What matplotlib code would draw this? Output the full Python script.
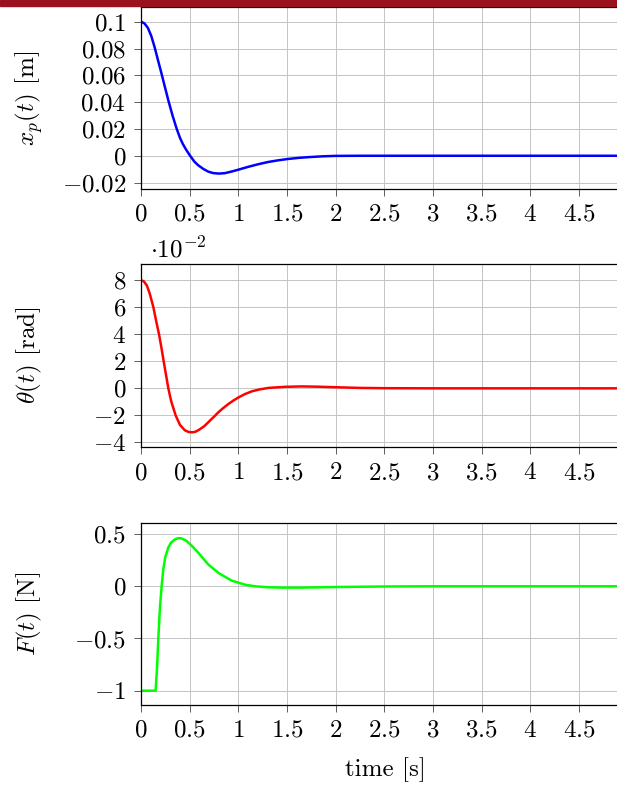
import numpy as np
import matplotlib.pyplot as plt
from matplotlib.patches import Rectangle
from matplotlib.ticker import FuncFormatter, MultipleLocator

plt.rcParams['font.family'] = 'serif'
plt.rcParams['font.serif'] = ['cmr10']
plt.rcParams['mathtext.fontset'] = 'cm'
plt.rcParams['axes.formatter.use_mathtext'] = True

# cart position x_p(t) [m]
t_x = [0, 0.035, 0.07, 0.105, 0.14, 0.175, 0.212, 0.245, 0.284, 0.325, 0.366,
       0.40, 0.43, 0.46, 0.5, 0.55, 0.59, 0.64, 0.69, 0.74, 0.8, 0.86, 0.93, 1.0,
       1.1, 1.2, 1.31, 1.41, 1.51, 1.63, 1.75, 1.87, 2.0, 2.25, 2.5, 3.0, 3.5,
       4.0, 4.5, 5.0]
x_p = [0.1, 0.0988, 0.0955, 0.0895, 0.081, 0.0712, 0.061, 0.0515, 0.0405, 0.0298,
       0.0203, 0.0135, 0.0088, 0.005, 0.0005, -0.0045, -0.0072, -0.0098, -0.0118,
       -0.0129, -0.0133, -0.013, -0.0118, -0.0104, -0.0083, -0.0064, -0.0046,
       -0.0034, -0.0024, -0.0015, -0.0009, -0.0004, -0.0001, 0.0, 0.0, 0.0, 0.0,
       0.0, 0.0, 0.0]

# pendulum angle theta(t) [rad]
t_th = [0, 0.03, 0.06, 0.09, 0.127, 0.155, 0.185, 0.21, 0.233, 0.257, 0.281,
        0.31, 0.356, 0.4, 0.45, 0.49, 0.527, 0.56, 0.6, 0.65, 0.7, 0.75, 0.8,
        0.85, 0.9, 0.95, 1.0, 1.07, 1.14, 1.22, 1.31, 1.48, 1.65, 1.82, 2.0, 2.25,
        2.5, 3.0, 3.5, 4.0, 4.5, 5.0]
theta = [0.08, 0.079, 0.076, 0.07, 0.06, 0.05, 0.04, 0.03, 0.02, 0.01, 0.0,
         -0.0095, -0.02, -0.027, -0.031, -0.0323, -0.0325, -0.0321, -0.0305,
         -0.028, -0.0245, -0.021, -0.0174, -0.0143, -0.0115, -0.009, -0.0068,
         -0.0042, -0.0022, -0.0008, 0.0003, 0.0011, 0.0014, 0.0012, 0.0008,
         0.0003, 0.0001, 0.0, 0.0, 0.0, 0.0, 0.0]

# control force F(t) [N]
t_f = [0, 0.15, 0.165, 0.178, 0.195, 0.212, 0.23, 0.25, 0.28, 0.31, 0.35, 0.38,
       0.41, 0.46, 0.52, 0.59, 0.69, 0.8, 0.93, 1.07, 1.17, 1.3, 1.45, 1.65, 2.0,
       2.5, 3.0, 3.5, 4.0, 4.5, 5.0]
force = [-1, -1, -0.78, -0.5, -0.2, 0.0, 0.17, 0.28, 0.37, 0.42, 0.45, 0.46,
         0.46, 0.44, 0.39, 0.32, 0.21, 0.125, 0.055, 0.015, 0.0, -0.009, -0.013,
         -0.013, -0.007, -0.002, 0.0, 0.0, 0.0, 0.0, 0.0]

theta_scale = 1e-2
xticks = np.arange(0, 5.0, 0.5)
fs = 18

W, H = 617, 790
fig = plt.figure(figsize=(W / 100, H / 100), dpi=100)
fig.patches.append(Rectangle((0, 1 - 6 / H), 1, 6 / H, transform=fig.transFigure,
                             color='#9b111e', zorder=0))

def px_axes(top, bottom, left=141, right=627.5):
    return fig.add_axes([left / W, 1 - bottom / H, (right - left) / W, (bottom - top) / H])

ax1 = px_axes(7, 189)
ax2 = px_axes(264, 447.3)
ax3 = px_axes(523, 705)

fmt = FuncFormatter(lambda v, p: '$%g$' % np.round(v, 6))

def style(ax, ylabel):
    ax.set_xlim(0, 5)
    ax.set_xticks(xticks)
    ax.xaxis.set_major_formatter(fmt)
    ax.yaxis.set_major_formatter(fmt)
    ax.grid(True, color='#c4c4c4', lw=0.7)
    ax.set_axisbelow(True)
    ax.tick_params(direction='out', length=4.7, width=0.6, color='#444444',
                   labelsize=fs, pad=6, top=False, right=False)
    for s in ax.spines.values():
        s.set_linewidth(0.9)
    ax.set_ylabel(ylabel, fontsize=fs, va='center')
    ax.yaxis.set_label_coords(-0.23, 0.5)

ax1.plot(t_x, x_p, color='#0000ff', lw=1.8)
ax1.set_ylim(-0.0248, 0.111)
ax1.yaxis.set_major_locator(MultipleLocator(0.02))
style(ax1, r'$x_p(t)$ [m]')

ax2.plot(t_th, np.array(theta) / theta_scale, color='#ff0000', lw=1.8)
ax2.set_ylim(-4.36, 9.19)
ax2.yaxis.set_major_locator(MultipleLocator(2))
style(ax2, r'$\theta(t)$ [rad]')
ax2.text(0.018, 1.035, r'$\cdot 10^{-2}$', transform=ax2.transAxes,
         fontsize=fs, ha='left', va='baseline')

ax3.plot(t_f, force, color='#00ff00', lw=1.8)
ax3.set_ylim(-1.137, 0.606)
ax3.yaxis.set_major_locator(MultipleLocator(0.5))
style(ax3, r'$F(t)$ [N]')
ax3.set_xlabel('time [s]', fontsize=fs, va='center')
ax3.xaxis.set_label_coords(0.5015, -0.357)

fig.savefig('out.png', dpi=100)
